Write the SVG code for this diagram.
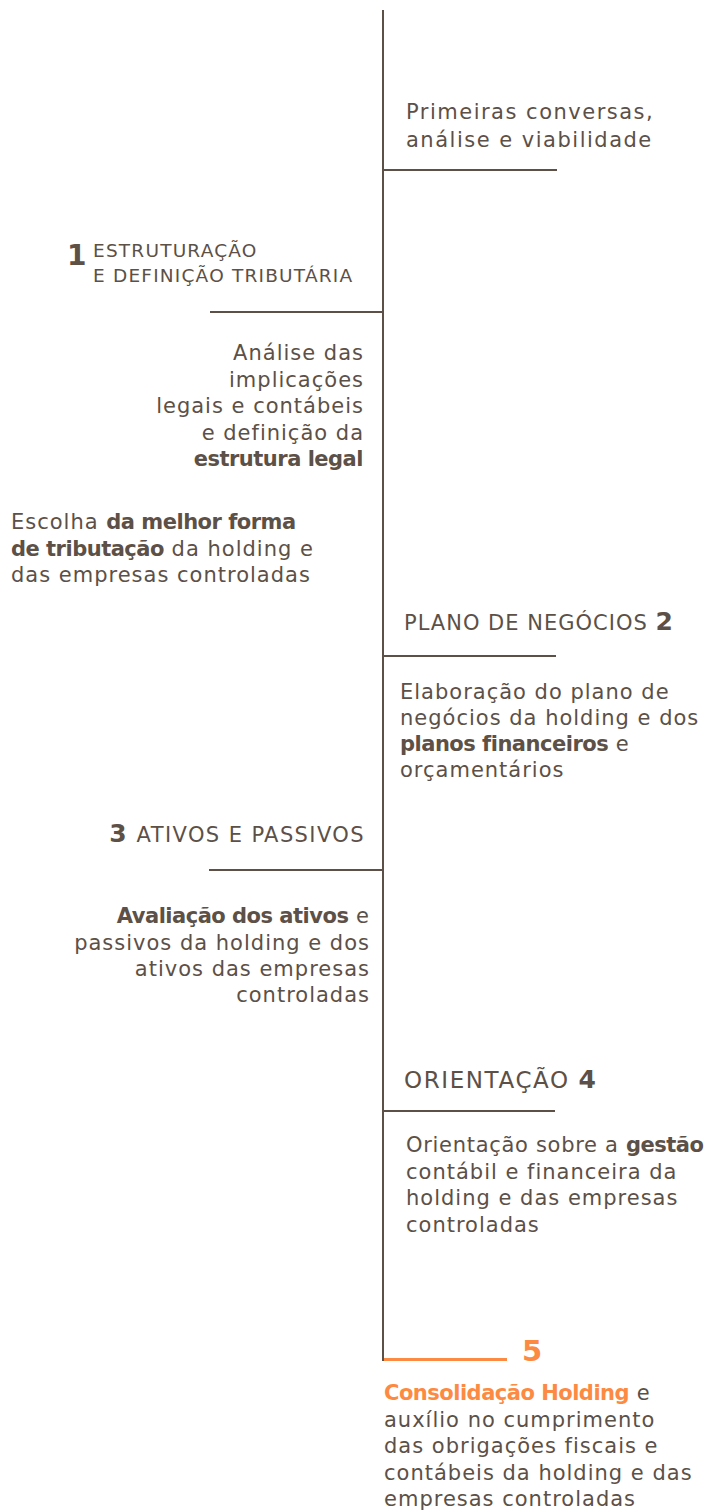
<svg xmlns="http://www.w3.org/2000/svg" width="707" height="1510" viewBox="0 0 707 1510">
<style>
text { font-family: "DejaVu Sans", "Noto Sans", "Liberation Sans", sans-serif; fill: #5c5047; letter-spacing: 1px; }
.body { font-size: 21px; }
.head { font-size: 21px; }
.head1 { font-size: 18.5px; letter-spacing: 1.2px; }
.num { font-weight: 700; font-size: 25px; letter-spacing: 0; }
.b { font-weight: 700; letter-spacing: -0.5px; }
.end { text-anchor: end; }
.orange { fill: #fd8a42; }
.ln { stroke: #5c5047; stroke-width: 2; fill: none; }
.lo { stroke: #fd8a42; stroke-width: 3; fill: none; }
</style>
<rect width="707" height="1510" fill="#ffffff"/>
<g id="connectors">
  <line class="ln" x1="383" y1="10" x2="383" y2="1361"/>
  <line class="ln" x1="383" y1="170" x2="557" y2="170"/>
  <line class="ln" x1="210" y1="312" x2="383" y2="312"/>
  <line class="ln" x1="383" y1="656" x2="556" y2="656"/>
  <line class="ln" x1="209" y1="870" x2="383" y2="870"/>
  <line class="ln" x1="383" y1="1111" x2="555" y2="1111"/>
  <line class="lo" x1="384" y1="1359.5" x2="507" y2="1359.5"/>
</g>
<g id="intro">
  <text class="body" x="406" y="119" style="letter-spacing:1.5px">Primeiras conversas,</text>
  <text class="body" x="406" y="147" style="letter-spacing:1.5px">análise e viabilidade</text>
</g>
<g id="step1-heading">
  <text class="num" x="67" y="265" style="font-size:28px">1</text>
  <text class="head1" x="93" y="257">ESTRUTURAÇÃO</text>
  <text class="head1" x="93" y="282">E DEFINIÇÃO TRIBUTÁRIA</text>
</g>
<g id="step1-legal">
  <text class="body end" x="364" y="360">Análise das</text>
  <text class="body end" x="364" y="386.5">implicações</text>
  <text class="body end" x="364" y="413">legais e contábeis</text>
  <text class="body end" x="364" y="439.5">e definição da</text>
  <text class="body end b" x="363" y="466">estrutura legal</text>
</g>
<g id="step1-tax">
  <text class="body" x="11" y="529">Escolha <tspan class="b">da melhor forma</tspan></text>
  <text class="body" x="11" y="555.5"><tspan class="b">de tributação</tspan> da holding e</text>
  <text class="body" x="11" y="582">das empresas controladas</text>
</g>
<g id="step2-heading">
  <text class="head" x="404" y="630">PLANO DE NEGÓCIOS <tspan class="num">2</tspan></text>
</g>
<g id="step2-desc">
  <text class="body" x="400" y="699">Elaboração do plano de</text>
  <text class="body" x="400" y="725">negócios da holding e dos</text>
  <text class="body" x="400" y="751"><tspan class="b">planos financeiros</tspan> e</text>
  <text class="body" x="400" y="777">orçamentários</text>
</g>
<g id="step3-heading">
  <text class="head end" x="365" y="842" style="letter-spacing:1.4px"><tspan class="num">3</tspan><tspan dx="10">ATIVOS E PASSIVOS</tspan></text>
</g>
<g id="step3-desc">
  <text class="body end" x="370" y="923"><tspan class="b">Avaliação dos ativos</tspan> e</text>
  <text class="body end" x="370" y="949.5">passivos da holding e dos</text>
  <text class="body end" x="370" y="976">ativos das empresas</text>
  <text class="body end" x="370" y="1002">controladas</text>
</g>
<g id="step4-heading">
  <text class="head" x="404" y="1088" style="font-size:23px;letter-spacing:1.6px">ORIENTAÇÃO <tspan class="num">4</tspan></text>
</g>
<g id="step4-desc">
  <text class="body" x="406" y="1152" style="letter-spacing:0.7px">Orientação sobre a <tspan class="b">gestão</tspan></text>
  <text class="body" x="406" y="1178.5">contábil e financeira da</text>
  <text class="body" x="406" y="1205">holding e das empresas</text>
  <text class="body" x="406" y="1231.5">controladas</text>
</g>
<g id="step5-heading">
  <text class="num orange" x="522" y="1361" style="font-size:29px">5</text>
</g>
<g id="step5-desc">
  <text class="body" x="384" y="1400"><tspan class="b orange">Consolidação Holding</tspan> e</text>
  <text class="body" x="384" y="1426.5">auxílio no cumprimento</text>
  <text class="body" x="384" y="1453">das obrigações fiscais e</text>
  <text class="body" x="384" y="1479.5">contábeis da holding e das</text>
  <text class="body" x="384" y="1505.5">empresas controladas</text>
</g>
</svg>
